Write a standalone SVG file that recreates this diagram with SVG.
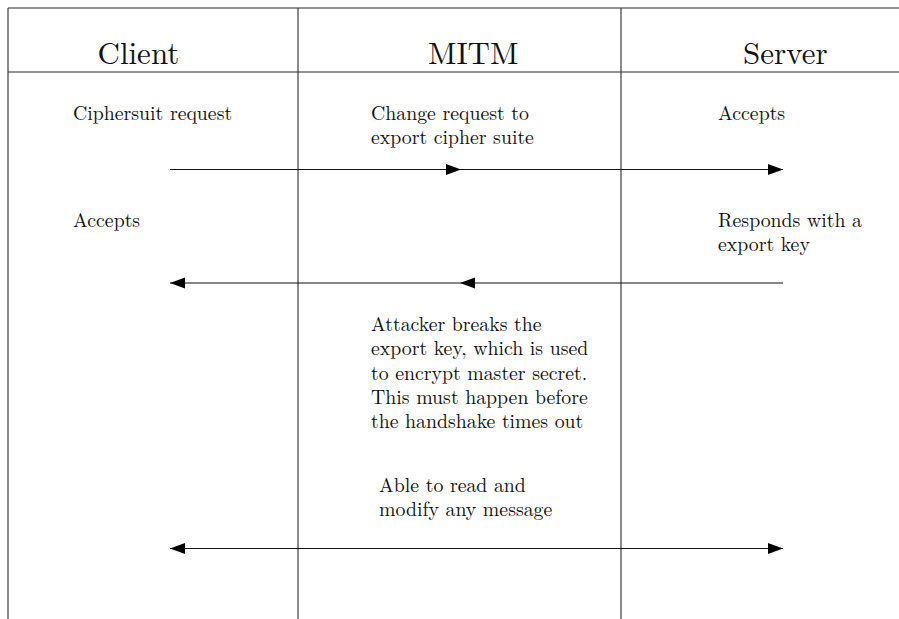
<svg xmlns="http://www.w3.org/2000/svg" width="899" height="619" viewBox="0 0 899 619">
<style>
.grid{stroke:#2a2a2a;stroke-width:1.1;fill:none}
.conn{stroke:#111;stroke-width:1.2;fill:none}
.hd{font-size:31px;fill:#111}
.tx{font-size:19.8px;fill:#111}
</style>
<defs>
<marker id="ah" markerUnits="userSpaceOnUse" markerWidth="16" markerHeight="12" refX="15" refY="5.5" orient="auto-start-reverse">
<path d="M0,0 L15,5.5 L0,11 z" fill="#000"/>
</marker>
</defs>
<rect width="899" height="619" fill="#fff"/>
<g id="frame" class="grid">
<line x1="8" y1="8" x2="899" y2="8"/>
<line x1="8" y1="8" x2="8" y2="619"/>
<line x1="8" y1="72" x2="899" y2="72"/>
<line x1="298" y1="8" x2="298" y2="619"/>
<line x1="621" y1="8" x2="621" y2="619"/>
</g>
<g font-family="Latin Modern Roman, Liberation Serif, serif">
<g id="client">
<text class="hd" x="97.5" y="64">Client</text>
<text class="tx" x="73" y="120">Ciphersuit request</text>
<text class="tx" x="73" y="227">Accepts</text>
</g>
<g id="mitm">
<text class="hd" x="428" y="64">MITM</text>
<text class="tx" x="371" y="120">Change request to</text>
<text class="tx" x="371" y="144">export cipher suite</text>
<text class="tx" x="371" y="331">Attacker breaks the</text>
<text class="tx" x="371" y="355">export key, which is used</text>
<text class="tx" x="371" y="379.5">to encrypt master secret.</text>
<text class="tx" x="371" y="404">This must happen before</text>
<text class="tx" x="371" y="428">the handshake times out</text>
<text class="tx" x="379" y="492">Able to read and</text>
<text class="tx" x="379" y="516">modify any message</text>
</g>
<g id="server">
<text class="hd" x="743" y="64">Server</text>
<text class="tx" x="718" y="120">Accepts</text>
<text class="tx" x="718" y="227">Responds with a</text>
<text class="tx" x="718" y="250.5">export key</text>
</g>
</g>
<g id="connectors" class="conn">
<path d="M170,169.5 H461" marker-end="url(#ah)"/>
<path d="M461,169.5 H783" marker-end="url(#ah)"/>
<path d="M783,283 H460" marker-end="url(#ah)"/>
<path d="M460,283 H170" marker-end="url(#ah)"/>
<path d="M170,548.5 H783" marker-start="url(#ah)" marker-end="url(#ah)"/>
</g>
</svg>
